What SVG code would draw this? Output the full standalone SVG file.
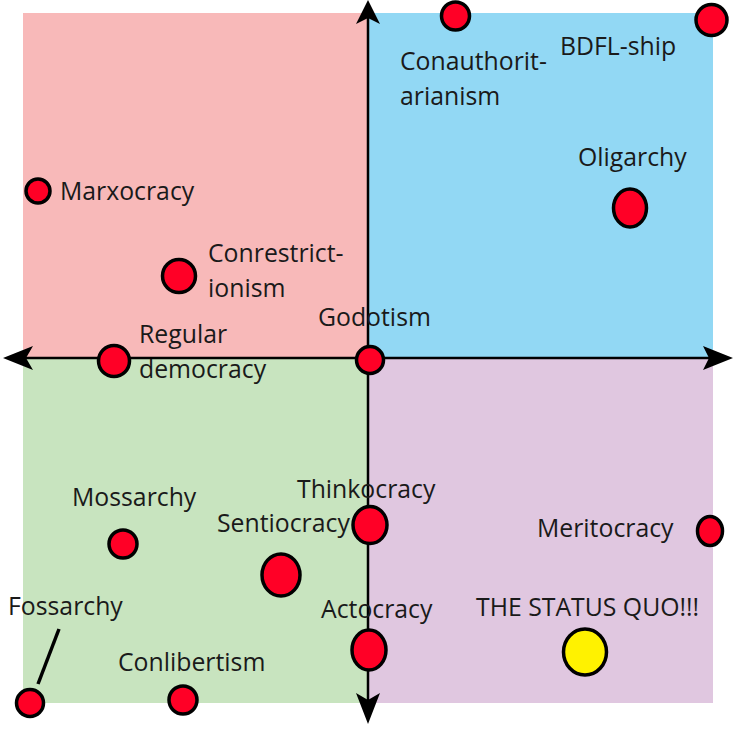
<svg xmlns="http://www.w3.org/2000/svg" width="735" height="729" viewBox="0 0 735 729">
<style>
.lbl{font-family:"Open Sans","Noto Sans","Liberation Sans",sans-serif;font-size:24.8px;fill:#1a1a1a}
.dot{fill:#ff0026;stroke:#000;stroke-width:3.5}
.sq{fill:#fff200;stroke:#000;stroke-width:3.5}
.axis{stroke:#000;stroke-width:2.5;fill:none}
.head{fill:#000}
</style>
<rect width="735" height="729" fill="#fff"/>
<g id="quadrants">
<rect x="23" y="13" width="345" height="345" fill="#f8b9b9"/>
<rect x="368" y="13" width="345" height="345" fill="#92d8f4"/>
<rect x="23" y="358" width="345" height="345" fill="#c8e4bf"/>
<rect x="368" y="358" width="345" height="345" fill="#e0c7e0"/>
</g>
<g id="connectors">
<line class="axis" x1="368" y1="12" x2="368" y2="712"/>
<line class="axis" x1="14" y1="358" x2="722" y2="358"/>
<path class="head" d="M368,0 L380,24 L368,18 L356,24 Z"/>
<path class="head" d="M368,724 L380,693 L368,700 L356,693 Z"/>
<path class="head" d="M3,358 L33,346 L26,358 L33,370 Z"/>
<path class="head" d="M733,358 L703,346 L709,358 L703,370 Z"/>
<line x1="59" y1="629" x2="38" y2="684" stroke="#000" stroke-width="3.5"/>
</g>
<g id="marxocracy"><circle class="dot" cx="38" cy="191" r="12"/><text class="lbl" x="60" y="200">Marxocracy</text></g>
<g id="conrestrictionism"><circle class="dot" cx="179" cy="276" r="16.5"/><text class="lbl" x="208" y="262">Conrestrict-</text><text class="lbl" x="208" y="297">ionism</text></g>
<g id="regular-democracy"><circle class="dot" cx="114" cy="361" r="15.5"/><text class="lbl" x="139" y="343">Regular</text><text class="lbl" x="139" y="378">democracy</text></g>
<g id="godotism"><circle class="dot" cx="370" cy="360" r="13.5"/><text class="lbl" x="318" y="326">Godotism</text></g>
<g id="conauthoritarianism"><circle class="dot" cx="455.5" cy="16" r="14"/><text class="lbl" x="400" y="70">Conauthorit-</text><text class="lbl" x="400" y="105">arianism</text></g>
<g id="bdfl-ship"><circle class="dot" cx="711.5" cy="20" r="15.5"/><text class="lbl" x="560" y="55">BDFL-ship</text></g>
<g id="oligarchy"><ellipse class="dot" cx="630" cy="208" rx="16.5" ry="19"/><text class="lbl" x="578" y="166">Oligarchy</text></g>
<g id="mossarchy"><circle class="dot" cx="123" cy="544" r="14"/><text class="lbl" x="72" y="506">Mossarchy</text></g>
<g id="sentiocracy"><ellipse class="dot" cx="281" cy="575" rx="19" ry="21"/><text class="lbl" x="217" y="532">Sentiocracy</text></g>
<g id="thinkocracy"><ellipse class="dot" cx="370" cy="525" rx="17" ry="18.5"/><text class="lbl" x="297" y="498">Thinkocracy</text></g>
<g id="actocracy"><ellipse class="dot" cx="369" cy="650" rx="17" ry="20"/><text class="lbl" x="321" y="618">Actocracy</text></g>
<g id="fossarchy"><circle class="dot" cx="30" cy="703" r="13.5"/><text class="lbl" x="8" y="615">Fossarchy</text></g>
<g id="conlibertism"><circle class="dot" cx="183" cy="700" r="14"/><text class="lbl" x="118" y="671">Conlibertism</text></g>
<g id="meritocracy"><ellipse class="dot" cx="710" cy="531" rx="12.5" ry="14.5"/><text class="lbl" x="537" y="537">Meritocracy</text></g>
<g id="status-quo"><ellipse class="sq" cx="585" cy="652" rx="21.5" ry="23"/><text class="lbl" x="476" y="616">THE STATUS QUO!!!</text></g>
</svg>
